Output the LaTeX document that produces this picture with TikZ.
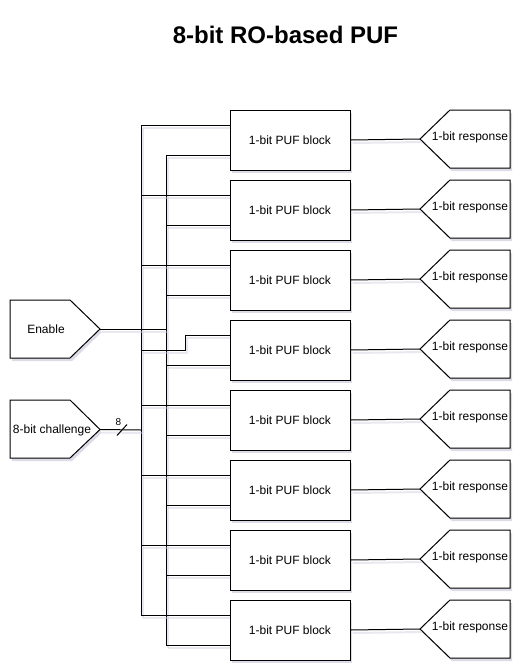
\documentclass[tikz,border=0pt]{standalone}
\usepackage{fontspec}
\setmainfont{Liberation Sans}
\usetikzlibrary{shadows}
\definecolor{shd}{RGB}{205,205,222}
\begin{document}
\begin{tikzpicture}[x=1pt,y=-1pt,
  lw/.style={line width=1pt},
  shad/.style={drop shadow={shadow xshift=2pt,shadow yshift=-3pt,fill=shd,opacity=0.7}},
  wire/.style={lw,preaction={draw=shd,line width=2pt,opacity=0.45,transform canvas={xshift=2pt,yshift=-3pt}}},
  txt/.style={inner sep=0pt,anchor=base,font=\fontsize{12}{14}\selectfont},
  blk/.style={draw,lw,fill=white,shad,minimum width=120pt,minimum height=60pt,inner sep=0pt},
  pent/.style={draw,lw,fill=white,shad,line join=miter}
]
\useasboundingbox (0,0) rectangle (531,672);
\node[anchor=base,inner sep=0pt,font=\fontsize{24}{28}\selectfont\bfseries] (title) at (285.5,43) {8-bit RO-based PUF};

% bus coordinates
\foreach \i in {1,...,8}{
  \pgfmathsetmacro{\t}{40+70*\i}
  \coordinate (inA\i) at (230,\t+15);
  \coordinate (inB\i) at (230,\t+45);
  \coordinate (busA\i) at (141,\t+15);
  \coordinate (busB\i) at (166,\t+45);
}
\coordinate (busA4) at (141,350);
\coordinate (jog1) at (185,350);
\coordinate (jog2) at (185,335);
\coordinate (enJ) at (166,329);
\coordinate (chJ) at (141,430);

% wires
\draw[wire] (busA1) -- (busA8);
\draw[wire] (busB1) -- (busB8);
\foreach \i in {1,2,3,5,6,7,8}{
  \draw[wire] (busA\i) -- (inA\i);
}
\draw[wire] (busA4) -- (jog1) -- (jog2) -- (inA4);
\foreach \i in {1,...,8}{
  \draw[wire] (busB\i) -- (inB\i);
}

% inputs
\coordinate (enT) at (100,329);
\draw[pent] (10,300) -- (70,300) -- (enT) -- (70,358) -- (10,358) -- cycle;
\node[txt] (en) at (46,333.5) {Enable};
\coordinate (chT) at (100,429.5);
\draw[pent] (10,400) -- (70,400) -- (chT) -- (70,458) -- (10,458) -- cycle;
\node[txt] (ch) at (52,433.5) {8-bit challenge};
\draw[wire] (enT) -- (enJ);
\draw[wire] (chT) -- (chJ);
\draw[lw] (117,435.5) -- (127,424.5);
\node[inner sep=0pt,anchor=base,font=\fontsize{10}{12}\selectfont] (bw) at (118.5,425.5) {8};

% blocks and responses
\foreach \i in {1,...,8}{
  \pgfmathsetmacro{\t}{40+70*\i}
  \node[blk] (b\i) at (290,\t+30) {};
  \node[txt] (bt\i) at (290,\t+34.3) {1-bit PUF block};
  \coordinate (tip\i) at (420,\t+29);
  \draw[pent] (tip\i) -- (450,\t) -- (510,\t) -- (510,\t+58) -- (450,\t+58) -- cycle;
  \node[txt] (r\i) at (470,\t+30) {1-bit response};
  \draw[wire] (b\i.east) -- (tip\i);
}
\end{tikzpicture}
\end{document}
